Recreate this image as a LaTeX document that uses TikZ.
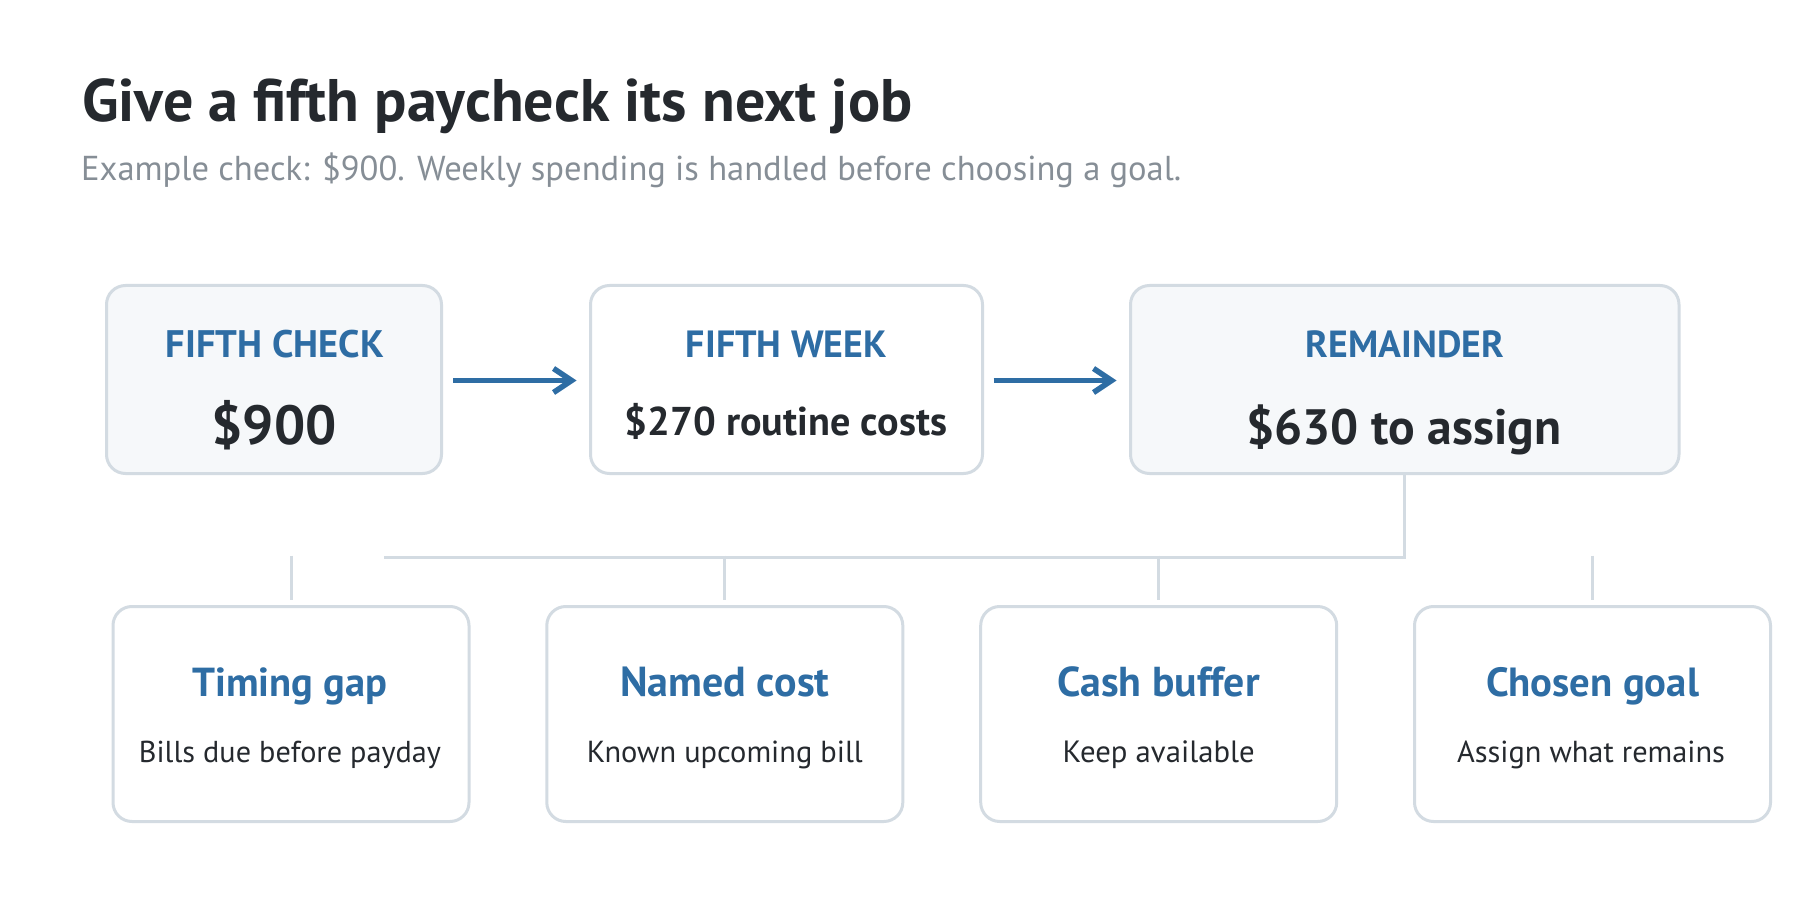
\documentclass[tikz,border=0pt]{standalone}
\usepackage{graphicx}
\usepackage{fontspec}
\setmainfont{PT Sans}
\usetikzlibrary{arrows.meta}
\definecolor{blueT}{HTML}{2E6DA4}
\definecolor{darkT}{HTML}{25292E}
\definecolor{grayT}{HTML}{868E96}
\definecolor{borderC}{HTML}{D3DBE2}
\definecolor{fillC}{HTML}{F6F8FA}
\newcommand\fitw[2]{\resizebox{#1}{!}{#2}}
\begin{document}
\begin{tikzpicture}[x=1pt,y=-1pt,
  card/.style={draw=borderC, line width=3pt, rounded corners=19pt, inner sep=0pt},
  topcard/.style={card, minimum height=188pt},
  botcard/.style={card, fill=white, minimum width=356pt, minimum height=215pt},
  txt/.style={inner sep=0pt, anchor=base},
  lbl/.style={txt, text=blueT},
  val/.style={txt, text=darkT},
  body/.style={txt, text=darkT},
  flow/.style={draw=blueT, line width=5.5pt, -{Straight Barb[length=18pt,width=24pt]}},
  conn/.style={draw=borderC, line width=3pt}
]
\fill[white] (0,0) rectangle (1800,920);
\useasboundingbox (0,0) rectangle (1800,920);

% title
\node[txt, anchor=base west, text=darkT] (title) at (82,122) {\fitw{830pt}{\bfseries Give a fifth paycheck its next job}};
\node[txt, anchor=base west, text=grayT] (subtitle) at (81,181) {\fitw{1100pt}{Example check: \$900. Weekly spending is handled before choosing a goal.}};

% top cards
\node[topcard, fill=fillC, minimum width=335pt] (b1) at (274,379.5) {};
\node[topcard, fill=white, minimum width=392pt] (b2) at (786.5,379.5) {};
\node[topcard, fill=fillC, minimum width=548.5pt] (b3) at (1404.75,379.5) {};

\node[lbl] (l1) at (275,357) {\fitw{218pt}{\bfseries FIFTH CHECK}};
\node[val] (v1) at (274,444) {\fitw{125pt}{\bfseries \$900}};
\node[lbl] (l2) at (786.5,357) {\fitw{201pt}{\bfseries FIFTH WEEK}};
\node[val] (v2) at (786,435) {\fitw{322pt}{\bfseries \$270 routine costs}};
\node[lbl] (l3) at (1405,357) {\fitw{198pt}{\bfseries REMAINDER}};
\node[val] (v3) at (1404,444) {\fitw{315pt}{\bfseries \$630 to assign}};

\draw[flow] ([xshift=10pt,yshift=-1pt]b1.east) -- ([xshift=-12.5pt,yshift=-1pt]b2.west);
\draw[flow] ([xshift=9.5pt,yshift=-1pt]b2.east) -- ([xshift=-12.5pt,yshift=-1pt]b3.west);

% bottom cards
\node[botcard] (c1) at (291,714) {};
\node[botcard] (c2) at (724.8,714) {};
\node[botcard] (c3) at (1158.7,714) {};
\node[botcard] (c4) at (1592.5,714) {};

\node[lbl] (t1) at (290,696) {\fitw{195pt}{\bfseries Timing gap}};
\node[body] (d1) at (290,762) {\fitw{302pt}{Bills due before payday}};
\node[lbl] (t2) at (724.8,696) {\fitw{209pt}{\bfseries Named cost}};
\node[body] (d2) at (724.8,762) {\fitw{276pt}{Known upcoming bill}};
\node[lbl] (t3) at (1158.7,696) {\fitw{202pt}{\bfseries Cash buffer}};
\node[body] (d3) at (1158.7,762) {\fitw{192pt}{Keep available}};
\node[lbl] (t4) at (1592.5,696) {\fitw{213pt}{\bfseries Chosen goal}};
\node[body] (d4) at (1591,762) {\fitw{268pt}{Assign what remains}};

% connectors
\coordinate (hend) at (384,557);
\draw[conn] (b3.south) |- (hend);
\coordinate (s1) at (291,555.5);
\coordinate (s2) at (724.8,555.5);
\coordinate (s3) at (1158.7,555.5);
\coordinate (s4) at (1592.5,555.5);
\draw[conn] (s1) -- ([yshift=5.5pt]c1.north);
\draw[conn] (s2) -- ([yshift=5.5pt]c2.north);
\draw[conn] (s3) -- ([yshift=5.5pt]c3.north);
\draw[conn] (s4) -- ([yshift=5.5pt]c4.north);
\end{tikzpicture}
\end{document}
